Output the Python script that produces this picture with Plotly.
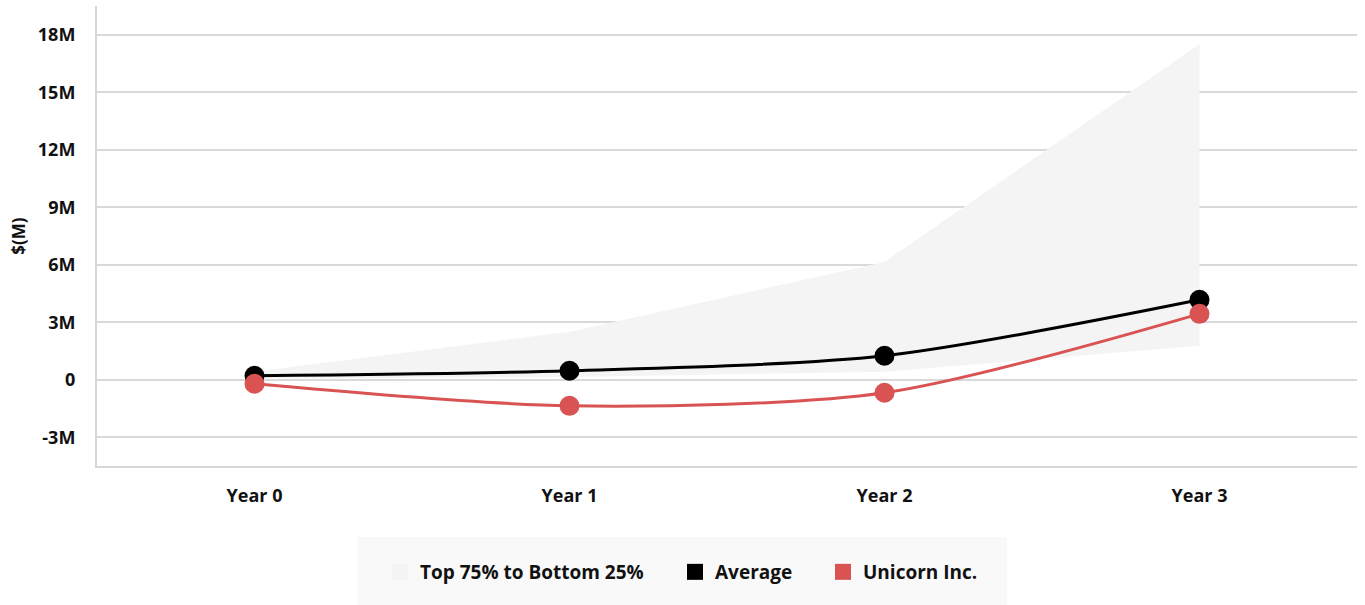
import plotly.graph_objects as go

years = ["Year 0", "Year 1", "Year 2", "Year 3"]
band_upper = [0.42, 2.5, 6.15, 17.5]
band_lower = [0.05, 0.15, 0.42, 1.77]
average = [0.21, 0.47, 1.25, 4.17]
unicorn = [-0.21, -1.36, -0.68, 3.44]

y_ticks = [-3, 0, 3, 6, 9, 12, 15, 18]
y_tick_text = ["-3M", "0", "3M", "6M", "9M", "12M", "15M", "18M"]

band_color = "#f4f4f4"
avg_color = "#000000"
uni_color = "#d95353"
FONT = "Open Sans"
W, H = 1365, 605

fig = go.Figure()

fig.add_trace(go.Scatter(x=years, y=band_lower, mode="lines", line=dict(width=0, color=band_color),
                         showlegend=False, hoverinfo="skip"))
fig.add_trace(go.Scatter(x=years, y=band_upper, mode="lines", line=dict(width=0, color=band_color),
                         fill="tonexty", fillcolor=band_color, showlegend=False, hoverinfo="skip"))

fig.add_trace(go.Scatter(x=years, y=average, mode="lines+markers",
                         line=dict(color=avg_color, width=3, shape="spline", smoothing=0.8),
                         marker=dict(size=20, color=avg_color), showlegend=False, name="Average"))
fig.add_trace(go.Scatter(x=years, y=unicorn, mode="lines+markers",
                         line=dict(color=uni_color, width=3, shape="spline", smoothing=0.8),
                         marker=dict(size=20, color=uni_color), showlegend=False, name="Unicorn Inc."))

legend_font = dict(family=FONT, size=19, color="#111111", weight="bold")
legend_items = [("Top 75% to Bottom 25%", band_color, "legend", 402),
                ("Average", avg_color, "legend2", 697),
                ("Unicorn Inc.", uni_color, "legend3", 845)]
legends = {}
for name, col, lg, px in legend_items:
    fig.add_trace(go.Scatter(x=[None], y=[None], mode="markers", name=name, legend=lg,
                             marker=dict(symbol="square", size=20, color=col)))
    legends[lg] = dict(orientation="h", xref="container", yref="container",
                       x=(px - 22) / W, xanchor="left",
                       y=(H - 572) / H, yanchor="middle", bgcolor="rgba(0,0,0,0)",
                       font=legend_font, itemsizing="trace")

fig.update_layout(
    width=W, height=H,
    margin=dict(l=97, r=8, t=6, b=139),
    plot_bgcolor="white", paper_bgcolor="white",
    font=dict(family=FONT, size=16, color="#111111", weight="bold"),
    showlegend=True,
    **legends,
    xaxis=dict(range=[-0.5, 3.5], showgrid=False, showline=True, linecolor="#d6d6d6", linewidth=2,
               ticks="outside", ticklen=12, tickcolor="rgba(0,0,0,0)",
               tickfont=dict(family=FONT, size=18, color="#111111", weight="bold")),
    yaxis=dict(range=[-4.5, 19.5], tickvals=y_ticks, ticktext=y_tick_text,
               showgrid=True, gridcolor="#d9d9d9", gridwidth=1.5, zeroline=False,
               showline=True, linecolor="#d6d6d6", linewidth=2,
               ticks="outside", ticklen=16, tickcolor="rgba(0,0,0,0)",
               tickfont=dict(family=FONT, size=18, color="#111111", weight="bold"),
               title=dict(text="$(M)", font=dict(family=FONT, size=17, color="#111111", weight="bold"),
                          standoff=8)),
    shapes=[dict(type="rect", xref="paper", yref="paper",
                 x0=(357 - 97) / 1260, x1=(1007 - 97) / 1260,
                 y0=(466 - 537) / 460, y1=(466 - 605) / 460,
                 fillcolor="#f9f9f9", line=dict(width=0), layer="below")],
)

fig.write_html("out.html")
